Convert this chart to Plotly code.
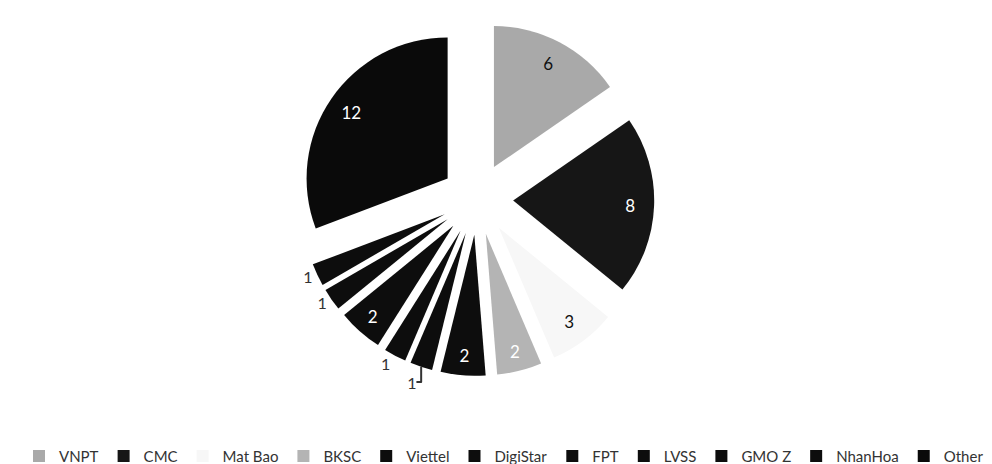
import plotly.graph_objects as go

providers = ["VNPT", "CMC", "Mat Bao", "BKSC", "Viettel", "DigiStar", "FPT", "LVSS", "GMO Z", "NhanHoa", "Other"]
counts = [6, 8, 3, 2, 2, 1, 1, 2, 1, 1, 12]
slice_colors = ["#a9a9a9", "#161616", "#f7f7f7", "#b4b4b4", "#0d0d0d", "#0d0d0d",
                "#0d0d0d", "#0d0d0d", "#0d0d0d", "#0d0d0d", "#0a0a0a"]
text_colors = ["#111111", "#ffffff", "#111111", "#ffffff", "#ffffff", "#333333",
               "#333333", "#ffffff", "#333333", "#333333", "#ffffff"]
text_positions = ["inside", "inside", "inside", "inside", "inside", "outside",
                  "outside", "inside", "outside", "outside", "inside"]

pull = [0.255] * len(counts)
domain = dict(x=[0.193, 0.753], y=[0.207, 0.970])
font_family = "Lato, Open Sans, sans-serif"

fig = go.Figure()
# solid pie (slices + legend)
fig.add_trace(go.Pie(
    labels=providers,
    values=counts,
    sort=False,
    direction="clockwise",
    rotation=0,
    pull=pull,
    marker=dict(colors=slice_colors, line=dict(width=0)),
    textinfo="none",
    domain=domain,
    showlegend=True,
))
# transparent ring carrying the value labels near the outer edge
fig.add_trace(go.Pie(
    labels=providers,
    values=counts,
    sort=False,
    direction="clockwise",
    rotation=0,
    pull=pull,
    hole=0.66,
    marker=dict(colors=["rgba(0,0,0,0)"] * len(counts), line=dict(width=0)),
    textinfo="value",
    textposition=text_positions,
    insidetextorientation="horizontal",
    textfont=dict(family=font_family, size=17, color=text_colors),
    outsidetextfont=dict(family=font_family, size=16, color="#333333"),
    domain=domain,
    showlegend=False,
    hoverinfo="skip",
))

fig.update_layout(
    width=992, height=464,
    margin=dict(l=0, r=0, t=0, b=0, autoexpand=False),
    paper_bgcolor="white",
    plot_bgcolor="white",
    legend=dict(orientation="h", x=0.5, xanchor="center", y=0.034, yanchor="middle",
                font=dict(family=font_family, size=15, color="#333333"),
                traceorder="normal"),
)

fig.write_html("out.html")
